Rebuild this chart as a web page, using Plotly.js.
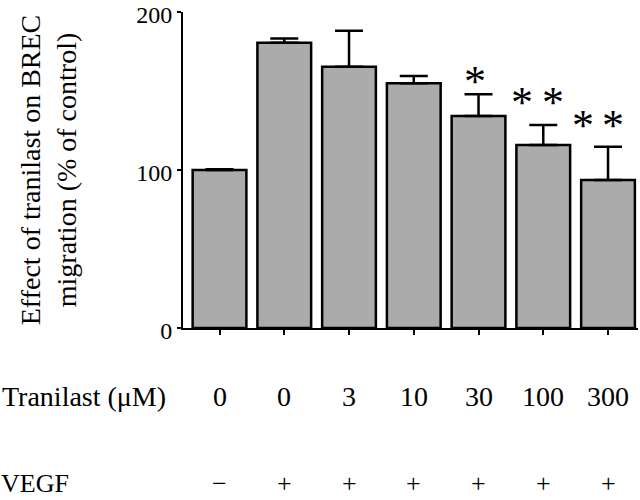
<!DOCTYPE html>
<html>
<head>
<meta charset="utf-8">
<script src="https://cdn.plot.ly/plotly-3.0.1.min.js"></script>
<style>html,body{margin:0;padding:0;background:#fff;}#chart{width:640px;height:500px;}</style>
</head>
<body>
<div id="chart"></div>
<script>
// Data
const groups = [0, 1, 2, 3, 4, 5, 6];
const tranilastLabels = ["0", "0", "3", "10", "30", "100", "300"];
const vegfLabels = ["\u2212", "+", "+", "+", "+", "+", "+"];
const migration = [100, 180.6, 165.4, 154.9, 134.2, 115.8, 93.7];
const sem = [0.5, 2.7, 22.8, 4.6, 13.8, 12.7, 21.0];
const significance = ["", "", "", "", "*", "**", "**"];
const yTicks = [0, 100, 200];

const serif = "Liberation Serif, Times New Roman, serif";

const trace = {
  type: "bar",
  x: groups,
  y: migration,
  width: 0.83,
  marker: {
    color: "#b0b0b0",
    line: {color: "#000", width: 2.5},
    pattern: {shape: ".", fgcolor: "#666", bgcolor: "#d6d6d6", size: 2, solidity: 0.4}
  },
  error_y: {
    type: "data",
    symmetric: false,
    array: sem,
    arrayminus: sem.map(() => 0),
    color: "#000",
    thickness: 2.5,
    width: 14
  },
  hoverinfo: "skip"
};

// placement of the significance stars (style only)
const starStyle = {
  4: {dx: [-0.05], shift: -14},
  5: {dx: [-0.33, 0.15], shift: -4},
  6: {dx: [-0.39, 0.08], shift: -5}
};

const rowFont = {family: serif, size: 28, color: "#000"};
const vegfFont = {family: serif, size: 26, color: "#000"};
const annotations = [];
groups.forEach((g, i) => {
  annotations.push({
    x: g, xref: "x", y: -0.218, yref: "paper",
    text: tranilastLabels[i], showarrow: false, font: rowFont,
    xanchor: "center", yanchor: "middle"
  });
  annotations.push({
    x: g, xref: "x", y: -0.541, yref: "paper",
    text: vegfLabels[i], showarrow: false, font: vegfFont,
    xanchor: "center", yanchor: "bottom", borderpad: 0
  });
  if (significance[i].length > 0) {
    const top = migration[i] + sem[i];
    const st = starStyle[i];
    st.dx.forEach(off => {
      annotations.push({
        x: g + off, xref: "x", y: top, yref: "y",
        text: "*", showarrow: false,
        font: {family: serif, size: 44, color: "#000"},
        xanchor: "center", yanchor: "bottom", yshift: st.shift
      });
    });
  }
});
annotations.push({
  x: 0, xref: "paper", xanchor: "left", y: -0.218, yref: "paper", yanchor: "middle",
  xshift: -183, text: "Tranilast (\u03bcM)", showarrow: false, font: rowFont
});
annotations.push({
  x: 0, xref: "paper", xanchor: "left", y: -0.541, yref: "paper", yanchor: "bottom",
  xshift: -183, text: "VEGF", showarrow: false, font: vegfFont, borderpad: 0
});

const layout = {
  width: 640, height: 500,
  margin: {l: 183, r: 2, t: 12, b: 172},
  paper_bgcolor: "#fff", plot_bgcolor: "#fff",
  showlegend: false,
  font: {family: serif, color: "#000"},
  xaxis: {
    range: [-0.564, 6.463],
    tickvals: groups,
    showticklabels: false,
    ticks: "outside", ticklen: 5, tickwidth: 2, tickcolor: "#000",
    showline: true, linecolor: "#000", linewidth: 2,
    showgrid: false, zeroline: false, fixedrange: true
  },
  yaxis: {
    range: [0, 200],
    tickvals: yTicks,
    ticklabeloverflow: "allow",
    ticklabelshift: 3,
    ticks: "outside", ticklen: 4, tickwidth: 2, tickcolor: "#000",
    tickfont: {family: serif, size: 24, color: "#000"},
    showline: true, linecolor: "#000", linewidth: 2,
    showgrid: false, zeroline: false, fixedrange: true,
    title: {
      text: "Effect of tranilast on BREC<br>migration (% of control)",
      font: {family: serif, size: 28, color: "#000"},
      standoff: 51
    }
  },
  annotations: annotations
};

Plotly.newPlot("chart", [trace], layout, {staticPlot: true, displayModeBar: false});
</script>
</body>
</html>
